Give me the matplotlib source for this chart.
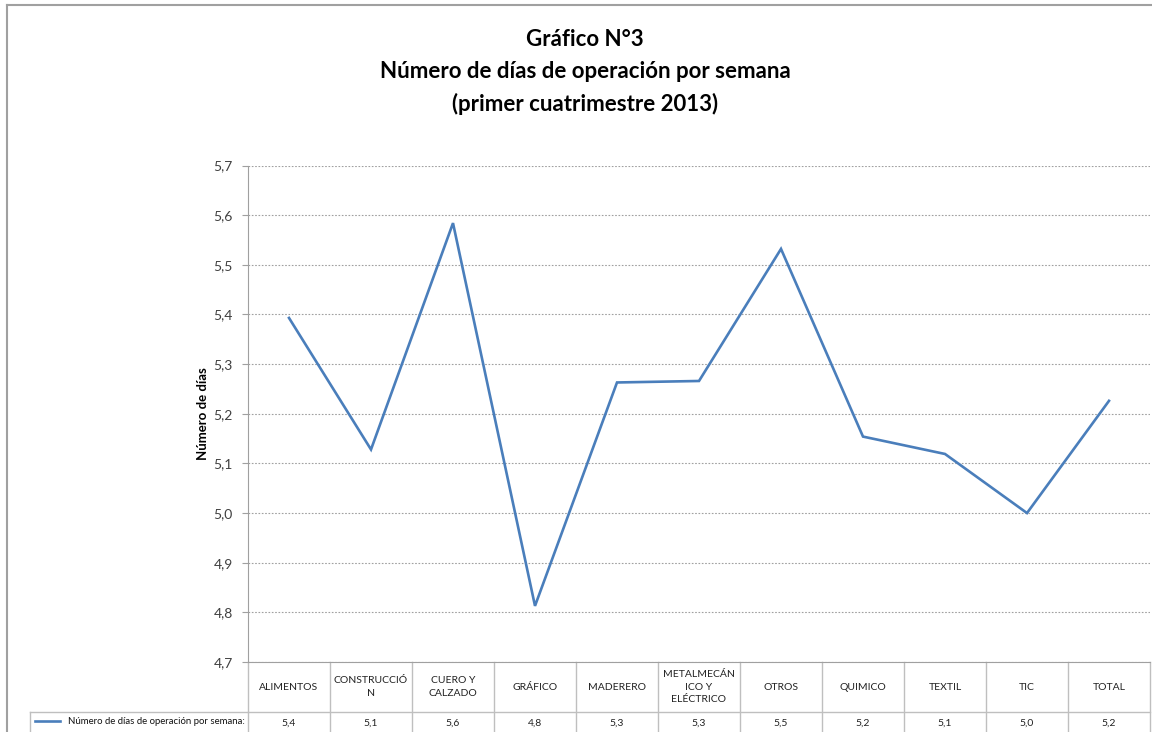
import numpy as np
import matplotlib
matplotlib.use('Agg')
import matplotlib.pyplot as plt
from matplotlib.lines import Line2D

## data
categorias = ['ALIMENTOS', 'CONSTRUCCIÓ\nN', 'CUERO Y\nCALZADO', 'GRÁFICO', 'MADERERO',
              'METALMECÁN\nICO Y\nELÉCTRICO', 'OTROS', 'QUIMICO', 'TEXTIL', 'TIC', 'TOTAL']
dias = [5.393, 5.128, 5.584, 4.813, 5.263, 5.266, 5.532, 5.154, 5.119, 5.0, 5.226]
yticks = [4.7, 4.8, 4.9, 5.0, 5.1, 5.2, 5.3, 5.4, 5.5, 5.6, 5.7]
serie = 'Número de días de operación por semana:'

plt.rcParams['font.family'] = ['Lato', 'DejaVu Sans']

W, H = 1152, 732
fig = plt.figure(figsize=(W / 100, H / 100), dpi=100)

# outer frame
fig.add_artist(Line2D([7 / W, 7 / W], [0, 1 - 5 / H], color='#a0a0a0', lw=1.5))
fig.add_artist(Line2D([7 / W, 1], [1 - 5 / H, 1 - 5 / H], color='#a0a0a0', lw=1.5))

# title
fig.text(585 / W, 1 - 72 / H, 'Gráfico N°3\nNúmero de días de operación por semana\n(primer cuatrimestre 2013)',
         ha='center', va='center', fontsize=16, fontweight='bold', linespacing=1.62)

x0, x1, y0, y1 = 248, 1150, 165.5, 662
ax = fig.add_axes([x0 / W, 1 - y1 / H, (x1 - x0) / W, (y1 - y0) / H])
x = np.arange(len(categorias))
ax.plot(x, dias, color='#4a7ebb', lw=1.9, solid_joinstyle='miter')
ax.set_xlim(-0.5, len(categorias) - 0.5)
ax.set_ylim(4.7, 5.7)
ax.set_yticks(yticks)
ax.set_yticklabels([f'{v:.1f}'.replace('.', ',') for v in yticks], fontsize=10, color='#404040')
ax.set_xticks([])
ax.grid(axis='y', color='#a0a0a0', ls=(0, (1.5, 1.5)), lw=0.8)
ax.tick_params(axis='y', length=4, color='#a0a0a0', pad=7)
for s in ['top', 'right']:
    ax.spines[s].set_visible(False)
ax.spines['left'].set_color('#a0a0a0')
ax.spines['bottom'].set_color('#a0a0a0')
ax.set_ylabel('Número de días', fontsize=9.5, fontweight='bold', labelpad=3)

# data table below the axis
trans = ax.get_xaxis_transform()
h = y1 - y0
ysep = -(712 - y1) / h
ybot = -(740 - y1) / h
tc = '#bfbfbf'
for k in range(len(categorias) + 1):
    ax.plot([k - 0.5, k - 0.5], [0, ybot], transform=trans, color=tc, lw=1, clip_on=False)
ax.plot([-0.5, len(categorias) - 0.5], [ysep, ysep], transform=trans, color=tc, lw=1, clip_on=False)

fig.add_artist(Line2D([30 / W, x0 / W], [1 - 712 / H, 1 - 712 / H], color=tc, lw=1))
fig.add_artist(Line2D([30 / W, 30 / W], [0, 1 - 712 / H], color=tc, lw=1))

for k, (c, v) in enumerate(zip(categorias, dias)):
    ax.text(k, -(687 - y1) / h, c, transform=trans, ha='center', va='center',
            fontsize=7.5, linespacing=1.5, color='#222222')
    ax.text(k, -(723 - y1) / h, f'{v:.1f}'.replace('.', ','), transform=trans,
            ha='center', va='center', fontsize=7.5, color='#222222')

# legend key in the table
fig.add_artist(Line2D([35 / W, 60 / W], [1 - 721 / H, 1 - 721 / H], color='#4a7ebb', lw=1.9))
fig.text(245 / W, 1 - 721 / H, serie, ha='right', va='center', fontsize=6.9, color='#111111')

fig.savefig('out.png', dpi=100)
